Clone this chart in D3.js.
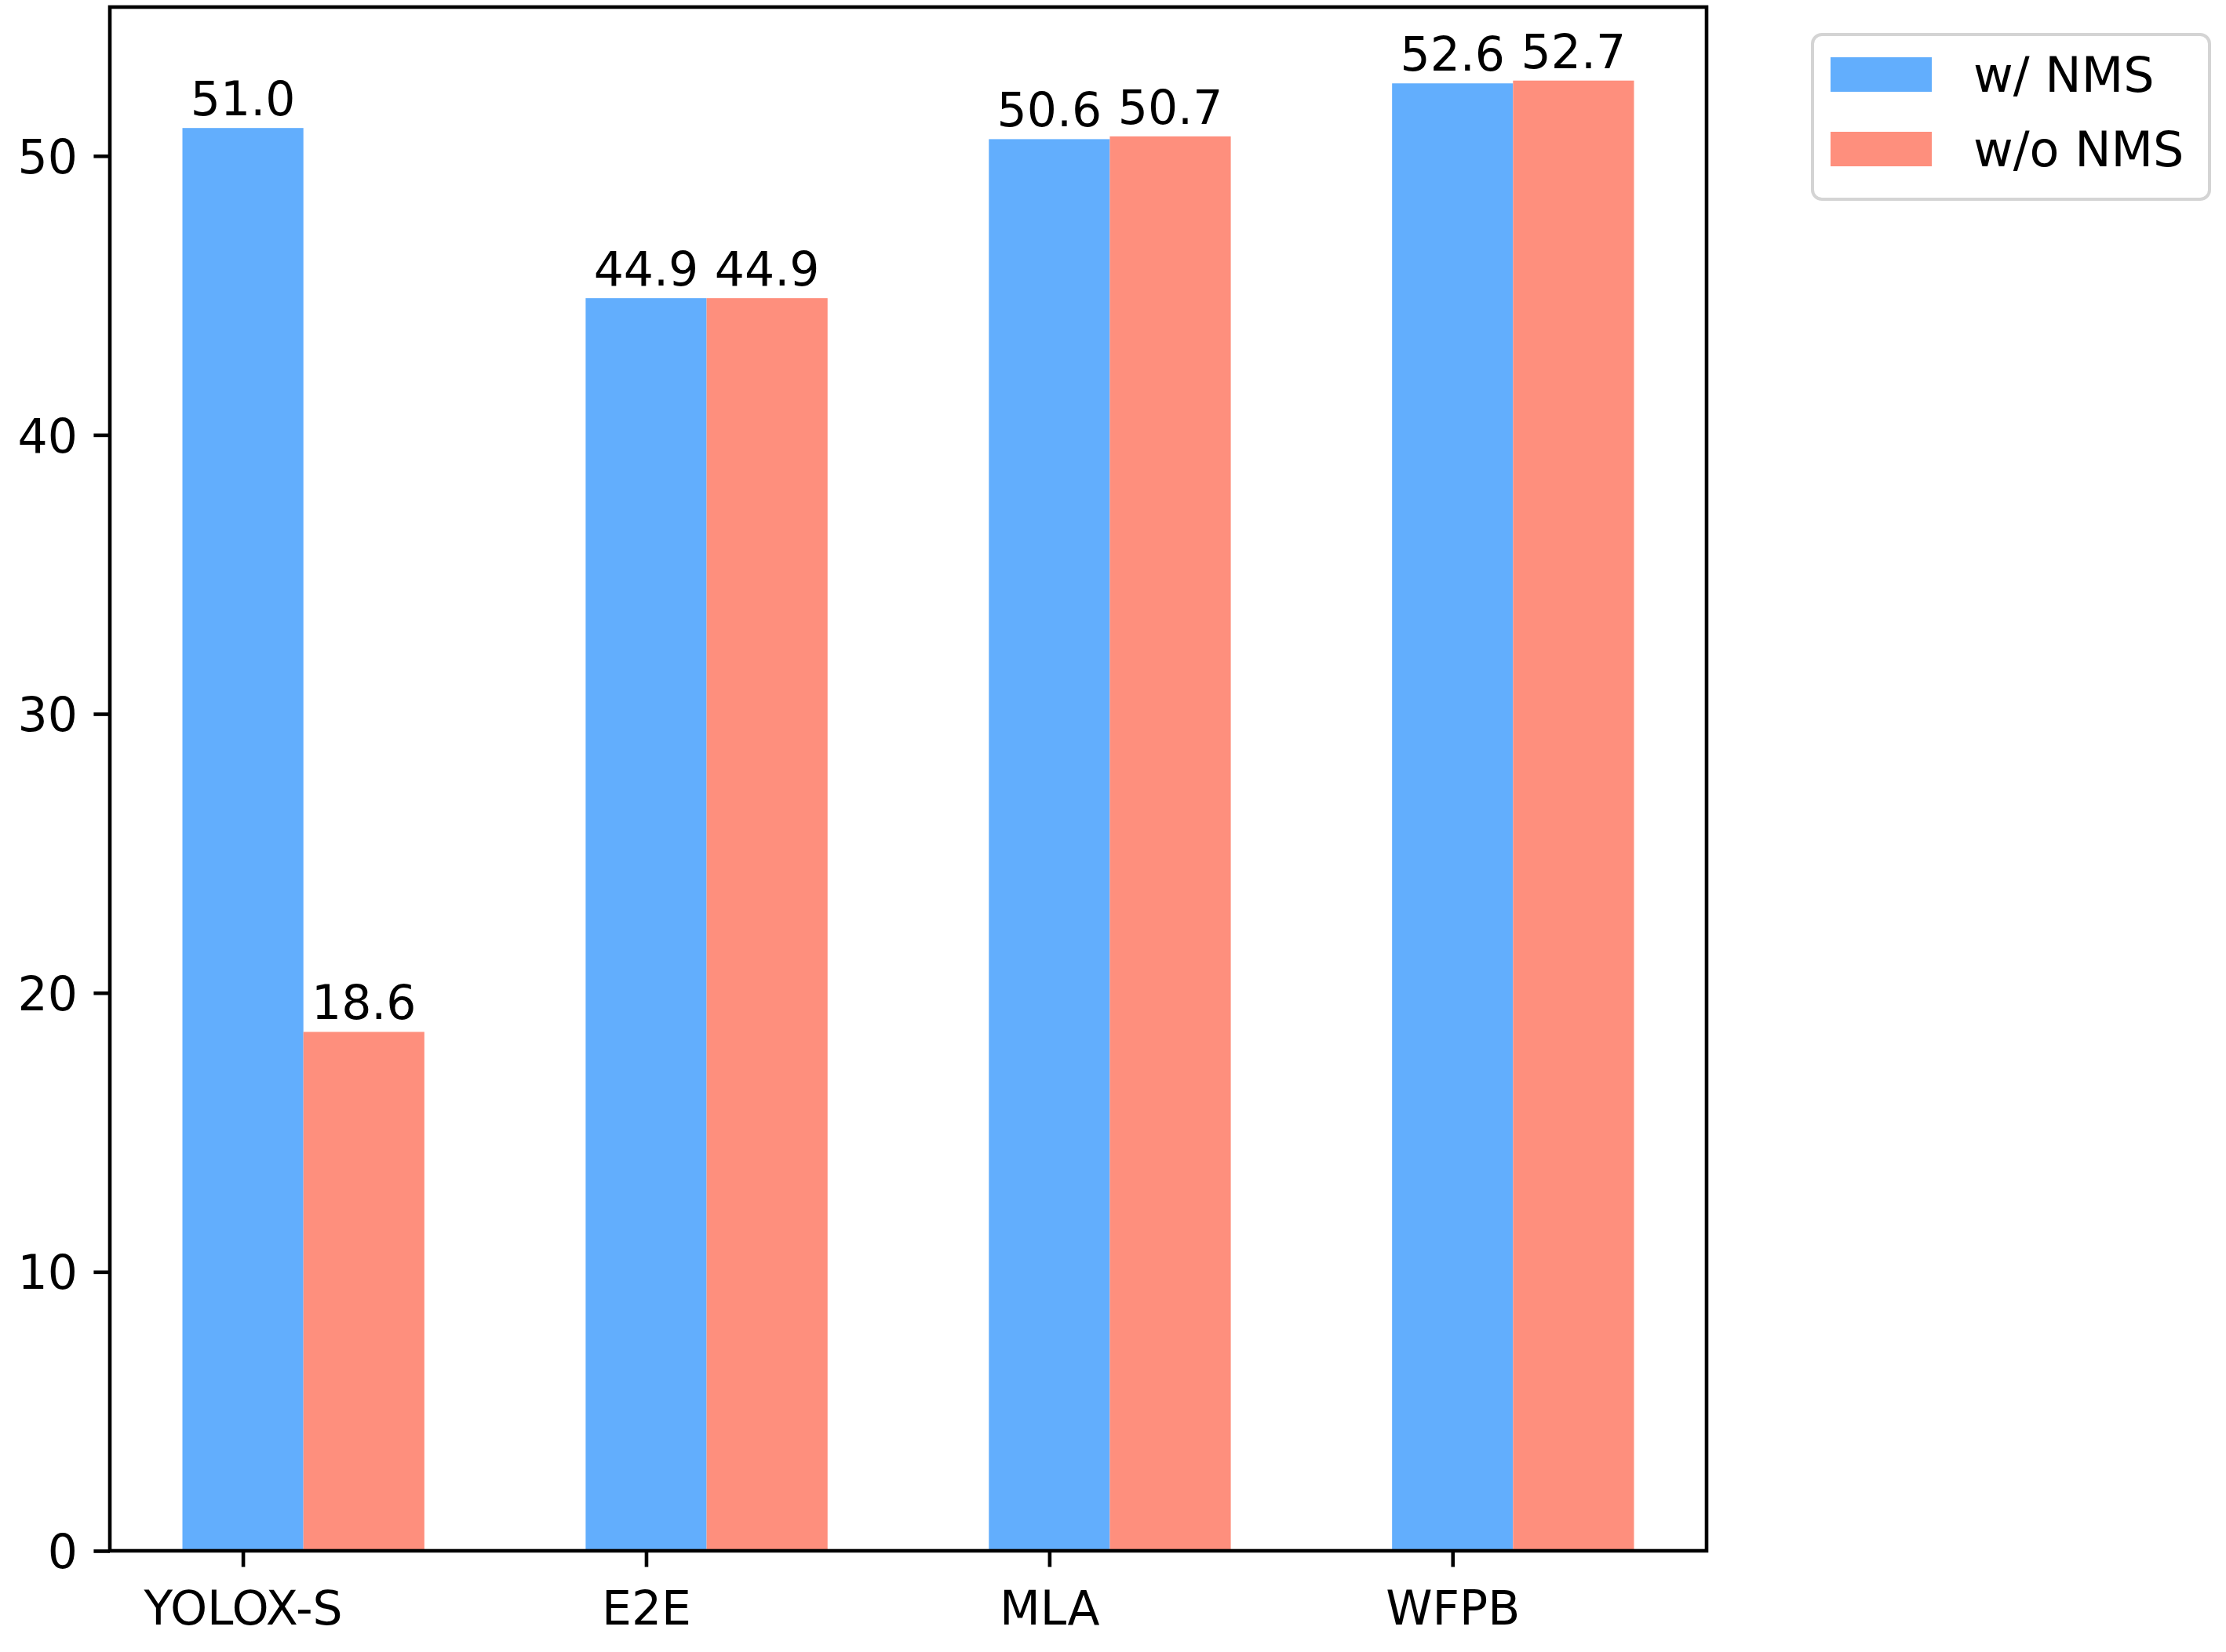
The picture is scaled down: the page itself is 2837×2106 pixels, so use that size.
<!DOCTYPE html>
<html>
<head>
<meta charset="utf-8">
<script src="https://cdn.jsdelivr.net/npm/d3@7"></script>
<style>
  body { margin: 0; background: #fff; }
  text { font-family: "DejaVu Sans", sans-serif; fill: #000; }
</style>
</head>
<body>
<div class="chart"></div>
<script>
// data
const methods = ["YOLOX-S", "E2E", "MLA", "WFPB"];
const withNMS = [51.0, 44.9, 50.6, 52.6];
const withoutNMS = [18.6, 44.9, 50.7, 52.7];
const seriesNames = ["w/ NMS", "w/o NMS"];
const yTicks = [0, 10, 20, 30, 40, 50];

const colors = ["#62aefd", "#fe8f7d"];
const W = 2837, H = 2106;
const plotL = 140, plotR = 2175, plotT = 9, plotB = 1977;
const barW = 0.3;
const fs = 60;
const tickLen = 20.6, tickPad = 20.6, lw = 4.6;

const svg = d3.select(".chart").append("svg")
  .attr("width", W).attr("height", H);

// matplotlib-like limits: 5% margins on x, sticky zero on y
const x0 = -barW / 2, x1 = methods.length - 1 + 1.5 * barW;
const xPad = (x1 - x0) * 0.05;
const x = d3.scaleLinear().domain([x0 - xPad, x1 + xPad]).range([plotL, plotR]);
const yMax = d3.max(withNMS.concat(withoutNMS)) * 1.05;
const y = d3.scaleLinear().domain([0, yMax]).range([plotB, plotT]);

const series = [withNMS, withoutNMS];
const rows = [];
series.forEach((vals, s) => vals.forEach((v, i) => rows.push({ i, s, v })));

// bars
svg.append("g").selectAll("rect")
  .data(rows)
  .enter()
  .append("rect")
  .attr("x", d => x(d.i - barW / 2 + d.s * barW))
  .attr("y", d => y(d.v))
  .attr("width", d => x(d.i + barW / 2 + d.s * barW) - x(d.i - barW / 2 + d.s * barW))
  .attr("height", d => y(0) - y(d.v))
  .attr("fill", d => colors[d.s]);

// value labels
svg.append("g").selectAll("text")
  .data(rows)
  .enter()
  .append("text")
  .attr("x", d => x(d.i + d.s * barW))
  .attr("y", d => y(d.v) - 16)
  .attr("text-anchor", "middle")
  .style("font-size", fs + "px")
  .text(d => d.v.toFixed(1));

// axes
const yAxis = d3.axisLeft(y).tickValues(yTicks).tickSize(tickLen).tickPadding(tickPad);
const xAxis = d3.axisBottom(x).tickValues(d3.range(methods.length))
  .tickFormat(i => methods[i]).tickSize(tickLen).tickPadding(tickPad);

const gy = svg.append("g").attr("transform", `translate(${plotL},0)`).call(yAxis);
const gx = svg.append("g").attr("transform", `translate(0,${plotB})`).call(xAxis);
[gx, gy].forEach(g => {
  g.select(".domain").remove();
  g.selectAll("line").attr("stroke", "#000").attr("stroke-width", lw);
  g.selectAll("text").style("font-size", fs + "px").attr("font-family", "DejaVu Sans").attr("fill", "#000");
});
gy.selectAll("text").attr("dy", "0.36em");
gx.selectAll("text").attr("dy", "0.88em");

// frame
svg.append("rect")
  .attr("x", plotL).attr("y", plotT)
  .attr("width", plotR - plotL).attr("height", plotB - plotT)
  .attr("fill", "none").attr("stroke", "#000").attr("stroke-width", lw);

// legend
const lg = svg.append("g").attr("transform", "translate(2310,44)");
lg.append("rect")
  .attr("width", 506).attr("height", 210).attr("rx", 12)
  .attr("fill", "#fff").attr("stroke", "#d4d4d4").attr("stroke-width", 4);
seriesNames.forEach((name, s) => {
  const cy = 73 - 44 + 22 + s * 95;
  lg.append("rect")
    .attr("x", 23).attr("y", cy - 22)
    .attr("width", 129).attr("height", 44)
    .attr("fill", colors[s]);
  lg.append("text")
    .attr("x", 205).attr("y", cy).attr("dy", "0.36em")
    .style("font-size", "62px")
    .text(name);
});
</script>
</body>
</html>
